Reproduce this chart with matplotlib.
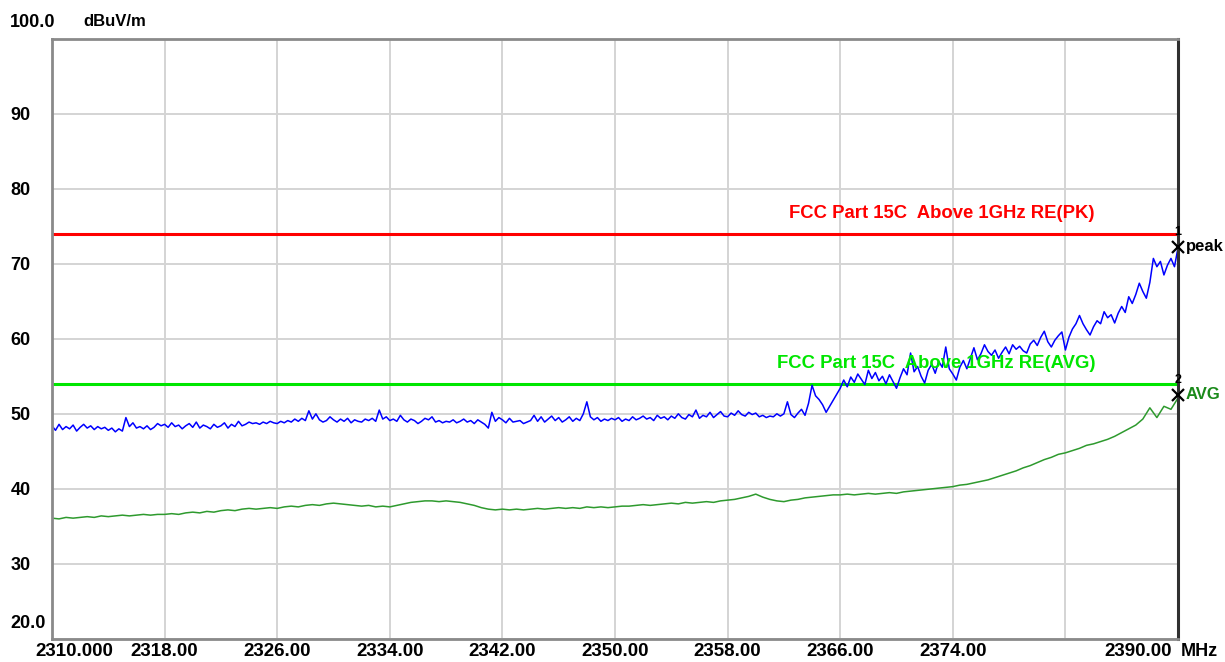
import matplotlib
matplotlib.use("Agg")
import matplotlib.pyplot as plt
import matplotlib.transforms as mtransforms
import numpy as np

# peak trace, 0.25 MHz step from 2310 to 2390
peak_start, peak_step = 2310.0, 0.25
peak_vals = [
    48.4, 47.8, 48.6, 47.9, 48.3, 48.0, 48.5, 47.7, 48.2, 48.6, 48.1, 48.4, 47.9, 48.3, 48.0, 48.2,
    47.8, 48.1, 47.6, 48.0, 47.7, 49.5, 48.3, 48.8, 48.1, 48.3, 48.0, 48.4, 47.9, 48.2, 48.7, 48.4,
    48.6, 48.2, 48.8, 48.3, 48.5, 48.0, 48.4, 48.7, 48.2, 48.9, 48.1, 48.5, 48.3, 48.0, 48.6, 48.2,
    48.4, 48.8, 48.1, 48.6, 48.3, 49.0, 48.4, 48.6, 48.9, 48.7, 48.8, 48.6, 48.9, 48.7, 49.0, 48.8,
    48.7, 49.0, 48.8, 49.1, 48.9, 49.3, 49.0, 49.4, 49.1, 50.4, 49.3, 50.0, 49.2, 48.9, 49.1, 49.6,
    49.2, 48.9, 49.3, 49.0, 49.4, 48.8, 49.2, 49.0, 48.9, 49.3, 49.1, 49.4, 49.0, 50.5, 49.3, 49.6,
    49.1, 49.3, 49.0, 49.8, 49.2, 48.9, 49.3, 49.1, 48.7, 49.0, 49.4, 49.2, 49.6, 48.9, 49.1, 48.8,
    49.0, 48.9, 49.2, 48.8, 49.0, 49.3, 48.9, 49.1, 48.7, 49.2, 48.9, 48.6, 48.1, 50.2, 49.0, 49.5,
    49.2, 48.8, 49.4, 48.9, 49.0, 49.1, 48.7, 48.9, 49.1, 49.8, 49.0, 49.6, 48.9, 49.3, 49.7, 49.1,
    49.5, 48.9, 49.2, 49.6, 49.0, 49.4, 49.1, 50.0, 51.6, 49.6, 49.2, 49.5, 49.0, 49.3, 49.1, 49.4,
    49.2, 49.5, 49.0, 49.3, 49.1, 49.6, 49.2, 49.4, 49.7, 49.3, 49.5, 49.1, 49.8, 49.4, 49.6, 49.2,
    49.7, 49.4, 50.0, 49.5, 49.3, 49.9, 49.6, 50.5, 49.4, 49.8, 49.6, 50.2, 49.5, 49.9, 50.3, 49.7,
    49.6, 50.1, 49.8, 50.4, 49.9, 49.7, 50.2, 49.9, 50.1, 49.6, 49.8, 49.5, 49.7, 49.6, 50.0, 49.7,
    50.0, 51.6, 49.9, 49.5, 50.1, 50.6, 49.8, 51.4, 53.8, 52.4, 51.9, 51.2, 50.2, 51.0, 51.8, 52.6,
    53.4, 54.5, 53.6, 54.9, 54.2, 55.3, 54.6, 53.9, 55.8, 54.7, 55.5, 54.4, 55.0, 54.0, 55.2, 54.3,
    53.4, 54.8, 56.0, 55.2, 58.1, 55.6, 56.3, 55.0, 54.1, 55.8, 56.6, 55.4, 57.0, 56.2, 58.9, 56.0,
    55.3, 54.5, 56.2, 57.1, 56.0, 57.4, 58.8, 57.2, 58.0, 59.2, 58.3, 57.8, 58.5, 57.4, 58.2, 58.9,
    58.0, 59.2, 58.6, 59.0, 58.4, 58.1, 59.3, 59.8, 59.1, 60.2, 61.0, 59.6, 58.9, 59.8, 60.4, 60.9,
    58.5, 60.2, 61.3, 62.0, 63.1, 62.0, 61.2, 60.5, 61.6, 62.4, 62.0, 63.6, 62.8, 63.2, 62.1, 63.4,
    64.3, 63.5, 65.6, 64.7, 65.9, 67.4, 66.3, 65.4, 67.5, 70.7, 69.6, 70.3, 68.5, 69.8, 70.7, 69.6,
    72.1,
]

# average trace, 0.5 MHz step from 2310 to 2390
avg_start, avg_step = 2310.0, 0.5
avg_vals = [
    36.1, 36.0, 36.2, 36.1, 36.2, 36.3, 36.2, 36.4, 36.3, 36.4, 36.5, 36.4, 36.5, 36.6, 36.5, 36.6,
    36.6, 36.7, 36.6, 36.8, 36.9, 36.8, 37.0, 36.9, 37.1, 37.2, 37.1, 37.3, 37.4, 37.3, 37.4, 37.5,
    37.4, 37.6, 37.7, 37.6, 37.8, 37.9, 37.8, 38.0, 38.1, 38.0, 37.9, 37.8, 37.7, 37.8, 37.6, 37.7,
    37.6, 37.8, 38.0, 38.2, 38.3, 38.4, 38.4, 38.3, 38.4, 38.3, 38.2, 38.0, 37.8, 37.5, 37.3, 37.2,
    37.3, 37.2, 37.3, 37.2, 37.3, 37.4, 37.3, 37.4, 37.5, 37.4, 37.5, 37.4, 37.6, 37.5, 37.6, 37.5,
    37.6, 37.7, 37.7, 37.8, 37.9, 37.8, 37.9, 38.0, 38.1, 38.0, 38.2, 38.1, 38.2, 38.3, 38.2, 38.4,
    38.5, 38.6, 38.8, 39.0, 39.3, 38.9, 38.6, 38.4, 38.3, 38.5, 38.6, 38.8, 38.9, 39.0, 39.1, 39.2,
    39.2, 39.3, 39.2, 39.3, 39.4, 39.3, 39.4, 39.5, 39.4, 39.6, 39.7, 39.8, 39.9, 40.0, 40.1, 40.2,
    40.3, 40.5, 40.6, 40.8, 41.0, 41.2, 41.5, 41.8, 42.1, 42.4, 42.8, 43.1, 43.5, 43.9, 44.2, 44.6,
    44.8, 45.1, 45.4, 45.8, 46.0, 46.3, 46.6, 47.0, 47.5, 48.0, 48.5, 49.3, 50.8, 49.5, 51.0, 50.6,
    52.1,
]

limit_pk = 74.0
limit_avg = 54.0
limit_pk_label = "FCC Part 15C  Above 1GHz RE(PK)"
limit_avg_label = "FCC Part 15C  Above 1GHz RE(AVG)"

marker_freq = [2390.0, 2390.0]
marker_vals = [72.2, 52.5]
marker_ids = ["1", "2"]
marker_names = ["peak", "AVG"]

xtick_vals = [2310, 2318, 2326, 2334, 2342, 2350, 2358, 2366, 2374, 2382, 2390]
xtick_labels = ["2310.000", "2318.00", "2326.00", "2334.00", "2342.00", "2350.00",
                "2358.00", "2366.00", "2374.00", "", "2390.00"]
ytick_vals = [20, 30, 40, 50, 60, 70, 80, 90, 100]
ytick_labels = ["20.0", "30", "40", "50", "60", "70", "80", "90", "100.0"]

peak_x = peak_start + peak_step * np.arange(len(peak_vals))
avg_x = avg_start + avg_step * np.arange(len(avg_vals))

plt.rcParams['font.family'] = ['Liberation Sans', 'DejaVu Sans']
fig = plt.figure(figsize=(12.25, 6.62), dpi=100)
ax = fig.add_axes([52 / 1225, 1 - 639 / 662, 1126 / 1225, 600.5 / 662])

ax.set_xlim(2310, 2390)
ax.set_ylim(20, 100)

# grid
ax.set_xticks(xtick_vals)
ax.set_yticks(ytick_vals)
ax.grid(True, color="#d4d4d4", linewidth=1.4)
ax.set_axisbelow(True)
ax.tick_params(length=0)

for side in ["left", "bottom", "top"]:
    ax.spines[side].set_color("#8a8a8a")
    ax.spines[side].set_linewidth(2)
ax.spines["right"].set_color("#303030")
ax.spines["right"].set_linewidth(2.2)

# limit lines
ax.axhline(limit_pk, color="#ff0000", linewidth=2.2)
ax.axhline(limit_avg, color="#00e600", linewidth=2.2)
ax.text(2373.2, limit_pk + 1.6, limit_pk_label, color="#ff0000", fontsize=13.3,
        fontweight="bold", ha="center", va="bottom")
ax.text(2372.8, limit_avg + 1.6, limit_avg_label, color="#00e600", fontsize=13.3,
        fontweight="bold", ha="center", va="bottom")

# traces
ax.plot(avg_x, avg_vals, color="#2e9a2e", linewidth=1.1)
ax.plot(peak_x, peak_vals, color="#0000ff", linewidth=1.1)

# markers
name_colors = ["black", "#1a8a1a"]
for f, v, i, n, c in zip(marker_freq, marker_vals, marker_ids, marker_names, name_colors):
    ax.plot(f, v, marker="x", color="black", markersize=9, markeredgewidth=1.6,
            clip_on=False, zorder=5)
    ax.text(f, v + 2.0, i, fontsize=9, fontweight="bold", ha="center", va="center")
    ax.text(f + 0.55, v + 0.1, n, color=c, fontsize=12, fontweight="bold",
            ha="left", va="center")

# tick labels
ax.set_xticklabels(xtick_labels, fontsize=13.5, fontweight="bold")
ax.set_yticklabels(ytick_labels, fontsize=13, fontweight="bold", ha="left")
ax.tick_params(axis="x", pad=3)
ax.tick_params(axis="y", pad=30)

xl = ax.get_xticklabels()
xl[0].set_horizontalalignment("left")
xl[0].set_transform(xl[0].get_transform() +
                    mtransforms.ScaledTranslation(-17 / 100, 0, fig.dpi_scale_trans))
xl[-1].set_horizontalalignment("right")
xl[-1].set_transform(xl[-1].get_transform() +
                     mtransforms.ScaledTranslation(-6 / 100, 0, fig.dpi_scale_trans))
yl = ax.get_yticklabels()
yl[0].set_transform(yl[0].get_transform() +
                    mtransforms.ScaledTranslation(0, 17 / 100, fig.dpi_scale_trans))
yl[-1].set_transform(yl[-1].get_transform() +
                     mtransforms.ScaledTranslation(0, 18 / 100, fig.dpi_scale_trans))

fig.text(1181 / 1225, 1 - 651 / 662, "MHz", fontsize=13, fontweight="bold",
         ha="left", va="center")
fig.text(83 / 1225, 1 - 21 / 662, "dBuV/m", fontsize=12, fontweight="bold",
         ha="left", va="center")

fig.savefig("out.png", dpi=100, facecolor="white")
